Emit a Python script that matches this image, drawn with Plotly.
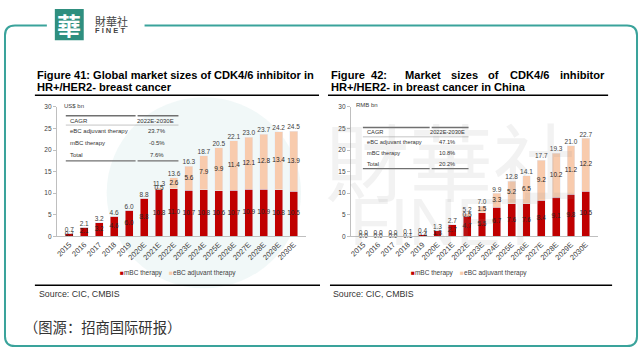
import plotly.graph_objects as go

# ---------------- data ----------------
years = ["2015", "2016", "2017", "2018", "2019", "2020E", "2021E", "2022E",
         "2023E", "2024E", "2025E", "2026E", "2027E", "2028E", "2029E", "2030E"]
global_mbc = [0.7, 2.1, 3.2, 4.6, 6.0, 8.8, 10.8, 11.0, 10.7, 10.8, 10.6, 10.7, 10.9, 10.9, 10.8, 10.5]
global_ebc = [0, 0, 0, 0, 0, 0, 0.5, 2.6, 5.6, 7.9, 9.9, 11.4, 12.1, 12.8, 13.4, 13.9]
global_total = [0.7, 2.1, 3.2, 4.6, 6.0, 8.8, 11.3, 13.6, 16.3, 18.7, 20.5, 22.1, 23.0, 23.7, 24.2, 24.5]
china_mbc = [0.0, 0.0, 0.0, 0.1, 0.4, 1.3, 2.7, 4.7, 5.5, 6.7, 7.6, 7.6, 8.4, 9.1, 9.8, 10.5]
china_ebc = [0, 0, 0, 0, 0, 0, 0, 0.5, 1.5, 3.3, 5.2, 6.5, 9.2, 10.2, 11.2, 12.2]
china_total = [0.0, 0.0, 0.0, 0.1, 0.4, 1.3, 2.7, 5.2, 7.0, 9.9, 12.8, 14.1, 17.7, 19.3, 21.0, 22.7]
y_ticks = [0, 5, 10, 15, 20, 25, 30]
cagr_header = ["CAGR", "2022E-2030E"]
cagr_rows = ["eBC adjuvant therapy", "mBC therapy", "Total"]
global_cagr = ["23.7%", "-0.5%", "7.6%"]
china_cagr = ["47.1%", "10.8%", "20.2%"]
series_names = ["mBC therapy", "eBC adjuvant therapy"]

RED = "#C00000"
PEACH = "#F8CBAD"
TEAL = "#3aa39b"
FONT = "Arial, Liberation Sans, sans-serif"

W, H = 641, 355


def X(px):
    return px / W


def Y(py):
    return 1 - py / H


fig = go.Figure()


def add_panel(mbc, ebc, total, xa, ya):
    fig.add_trace(go.Bar(x=years, y=mbc, marker_color=RED, name=series_names[0],
                         xaxis=xa, yaxis=ya, showlegend=False))
    fig.add_trace(go.Bar(x=years, y=ebc, marker_color=PEACH, name=series_names[1],
                         xaxis=xa, yaxis=ya, showlegend=False))
    # inside labels mBC
    fig.add_trace(go.Scatter(x=years, y=[m / 2 for m in mbc], mode="text",
                             text=["%.1f" % m for m in mbc],
                             textfont=dict(size=6.5, color="#262626", family=FONT),
                             xaxis=xa, yaxis=ya, showlegend=False, cliponaxis=False,
                             hoverinfo="skip"))
    # inside labels eBC (only non-zero)
    ex, ey, et = [], [], []
    for yr, m, e in zip(years, mbc, ebc):
        if e > 0:
            ex.append(yr)
            ey.append(m + e / 2)
            et.append("%.1f" % e)
    fig.add_trace(go.Scatter(x=ex, y=ey, mode="text", text=et,
                             textfont=dict(size=6.5, color="#262626", family=FONT),
                             xaxis=xa, yaxis=ya, showlegend=False, cliponaxis=False,
                             hoverinfo="skip"))
    # totals
    fig.add_trace(go.Scatter(x=years, y=total, mode="text",
                             text=["%.1f" % t for t in total], textposition="top center",
                             textfont=dict(size=6.5, color="#404040", family=FONT),
                             xaxis=xa, yaxis=ya, showlegend=False, cliponaxis=False,
                             hoverinfo="skip"))


add_panel(global_mbc, global_ebc, global_total, "x", "y")
add_panel(china_mbc, china_ebc, china_total, "x2", "y2")

xcommon = dict(showgrid=False, showline=True, linecolor="#bfbfbf", linewidth=1,
               tickangle=-45, tickfont=dict(size=7.5, color="#404040", family=FONT),
               ticks="", zeroline=False, fixedrange=True)
ycommon = dict(range=[0, 30], tickvals=y_ticks, showgrid=False, showline=True,
               linecolor="#bfbfbf", linewidth=1, ticks="outside", ticklen=3,
               tickcolor="#bfbfbf", tickfont=dict(size=6.5, color="#404040", family=FONT),
               zeroline=False, fixedrange=True)

fig.update_layout(
    width=W, height=H, margin=dict(l=0, r=0, t=0, b=0),
    paper_bgcolor="white", plot_bgcolor="rgba(0,0,0,0)",
    barmode="stack", bargap=0.47, showlegend=False,
    font=dict(family=FONT),
    xaxis=dict(domain=[X(55), X(305)], anchor="y", **xcommon),
    yaxis=dict(domain=[Y(237), Y(105)], anchor="x", **ycommon),
    xaxis2=dict(domain=[X(350), X(598)], anchor="y2", **xcommon),
    yaxis2=dict(domain=[Y(237), Y(105)], anchor="x2", **ycommon),
)

shapes = []
annotations = []


def line(x0, y0, x1, y1, color="#000", width=1.0, layer="above"):
    shapes.append(dict(type="line", xref="paper", yref="paper",
                       x0=X(x0), y0=Y(y0), x1=X(x1), y1=Y(y1),
                       line=dict(color=color, width=width), layer=layer))


def text(x, y, s, size=6, color="#333", xanchor="left", bold=False, family=FONT,
         yanchor="middle"):
    if bold:
        s = "<b>" + s + "</b>"
    annotations.append(dict(x=X(x), y=Y(y), xref="paper", yref="paper", text=s,
                            showarrow=False, xanchor=xanchor, yanchor=yanchor,
                            font=dict(size=size, color=color, family=family)))


# ---------- watermark ----------
shapes.append(dict(type="circle", xref="paper", yref="paper",
                   x0=X(105), x1=X(300), y0=Y(95), y1=Y(290),
                   fillcolor="rgba(60,160,150,0.07)", line=dict(width=0), layer="below"))
text(450, 158, "財華社", size=84, color="rgba(150,150,150,0.12)", xanchor="center",
     family="Noto Sans CJK SC")
text(445, 222, "FINET", size=66, color="rgba(150,150,150,0.12)", xanchor="center",
     family="Liberation Sans, Arial")

# ---------- card border ----------
r = 10
path = ("M {a},{b} L {c},{b} Q {l},{b} {l},{d} L {l},{e} Q {l},{f} {c},{f} "
        "L {g},{f} Q {rr},{f} {rr},{e} L {rr},{d} Q {rr},{b} {g},{b} L {h},{b}")
pts = dict(a=X(45), b=Y(22), c=X(3 + r), l=X(3), d=Y(22 + r), e=Y(349 - r), f=Y(349),
           g=X(637 - r), rr=X(637), h=X(143))
shapes.append(dict(type="path", xref="paper", yref="paper", path=path.format(**pts),
                   line=dict(color=TEAL, width=2), layer="below"))

# ---------- logo ----------
shapes.append(dict(type="rect", xref="paper", yref="paper", x0=X(53), x1=X(82),
                   y0=Y(37), y1=Y(5), fillcolor="#2f8f7f", line=dict(width=0)))
text(67.5, 21, "華", size=24, color="white", xanchor="center", bold=True,
     family="Noto Sans CJK TC")
text(91, 17, "財華社", size=11, color="#444", family="Noto Sans CJK TC")
text(91, 27, "F I N E T", size=7.5, color="#444", bold=True)

# ---------- titles ----------
text(33, 72, "Figure 41: Global market sizes of CDK4/6 inhibitor in", size=11.1, color="#000", bold=True)
text(33, 85, "HR+/HER2- breast cancer", size=11.1, color="#000", bold=True)
line(33, 93, 318, 93, width=1.5)

words = [("Figure", 328), ("42:", 368), ("Market", 402), ("sizes", 448), ("of", 486),
         ("CDK4/6", 508)]
for w, xp in words:
    text(xp, 72, w, size=11.1, color="#000", bold=True)
text(607, 72, "inhibitor", size=11.1, color="#000", bold=True, xanchor="right")
text(328, 85, "HR+/HER2- in breast cancer in China", size=11.1, color="#000", bold=True)
line(327, 93, 608, 93, width=1.5)

# units
text(60, 104, "US$ bn", size=6, color="#404040")
text(353, 103, "RMB bn", size=6, color="#404040")


# ---------- CAGR tables ----------
def table(x0, xsplit, x1, ytop, rowys, ybot, vals, size, valx):
    line(x0, ytop, xsplit - 1, ytop, color="#707070", width=1.3)
    line(xsplit + 1, ytop, x1, ytop, color="#707070", width=1.3)
    hy = ytop + 5
    text(x0 + 2, hy, cagr_header[0], size=size)
    text(x1 - 2, hy, cagr_header[1], size=size, xanchor="right")
    line(x0, hy + 4.5, x1, hy + 4.5, color="#a0a0a0", width=0.6)
    for name, v, ry in zip(cagr_rows, vals, rowys):
        text(x0 + 2, ry, name, size=size)
        text(valx, ry, v, size=size, xanchor="center")
    line(x0, ybot, xsplit - 1, ybot, color="#707070", width=1.3)
    line(xsplit + 1, ybot, x1, ybot, color="#707070", width=1.3)


table(64, 135, 177, 114, [130, 142, 154], 160, global_cagr, 6, 155)
table(362, 430, 468, 126, [141, 152, 163], 168, china_cagr, 5.7, 446)

# ---------- legends ----------
leg = ("<span style='color:%s'>■</span>%s&nbsp;&nbsp;&nbsp;&nbsp;"
       "<span style='color:%s'>■</span>%s") % (RED, series_names[0], PEACH, series_names[1])
text(116, 274, leg, size=6.5, color="#404040")
text(408, 274, leg, size=6.5, color="#404040")

# ---------- source lines ----------
line(33, 287, 319, 287, width=1.5)
line(329, 287, 612, 287, width=1.5)
text(35, 296, "Source: CIC, CMBIS", size=8.8, color="#333")
text(330, 296, "Source: CIC, CMBIS", size=8.8, color="#333")

# ---------- caption ----------
text(20, 329, "（图源：招商国际研报）", size=14.3, color="#333", family="Noto Sans CJK SC")

fig.update_layout(shapes=shapes, annotations=annotations)
fig.write_html("out.html", config={"displayModeBar": False},
               post_script="document.body.style.margin='0px';document.body.style.overflow='hidden';")
